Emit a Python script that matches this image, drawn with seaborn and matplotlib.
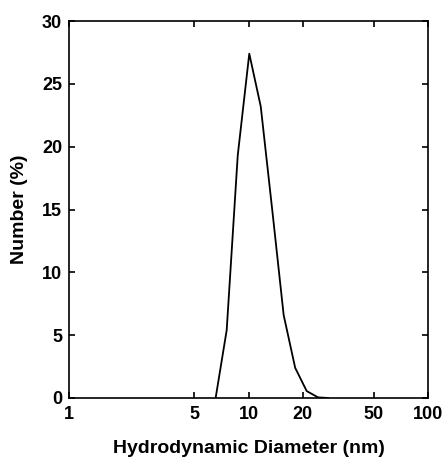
import matplotlib
matplotlib.use("Agg")
import matplotlib.pyplot as plt
from matplotlib.ticker import FixedLocator, FixedFormatter, NullLocator
import seaborn as sns
import pandas as pd

# Data
diameter_nm = [6.56, 7.56, 8.71, 10.1, 11.7, 13.6, 15.7, 18.2, 21.1, 24.4, 27.8]
number_pct = [0.0, 5.4, 19.3, 27.4, 23.2, 14.8, 6.6, 2.4, 0.55, 0.05, 0.0]

x_ticks = [1, 5, 10, 20, 50, 100]
x_tick_labels = ["1", "5", "10", "20", "50", "100"]
y_ticks = [0, 5, 10, 15, 20, 25, 30]

sns.set_style("ticks")
plt.rcParams["font.family"] = ["Liberation Sans", "DejaVu Sans"]
plt.rcParams["font.weight"] = "bold"

df = pd.DataFrame({"d": diameter_nm, "n": number_pct})

fig = plt.figure(figsize=(4.46, 4.57), dpi=100)
ax = fig.add_axes([69 / 446, 1 - 398 / 457, (428 - 69) / 446, (398 - 21) / 457])
ax.set_xscale("log")
sns.lineplot(data=df, x="d", y="n", ax=ax, color="black", linewidth=1.3)

ax.set_xlim(1, 100)
ax.set_ylim(0, 30)
ax.xaxis.set_major_locator(FixedLocator(x_ticks))
ax.xaxis.set_major_formatter(FixedFormatter(x_tick_labels))
ax.xaxis.set_minor_locator(NullLocator())
ax.set_yticks(y_ticks)

ax.tick_params(axis="both", which="major", direction="in", length=4, width=1.2,
               top=True, right=True, labelsize=13, colors="black")
ax.tick_params(axis="y", pad=5)
ax.tick_params(axis="x", pad=6)
for lab in ax.get_xticklabels() + ax.get_yticklabels():
    lab.set_fontweight("bold")
for sp in ax.spines.values():
    sp.set_visible(True)
    sp.set_linewidth(1.2)
    sp.set_color("black")

ax.set_xlabel("Hydrodynamic Diameter (nm)", fontsize=14, fontweight="bold",
              labelpad=12, color="black")
ax.set_ylabel("Number (%)", fontsize=14, fontweight="bold", labelpad=10, color="black")

fig.savefig("out.png", dpi=100)
